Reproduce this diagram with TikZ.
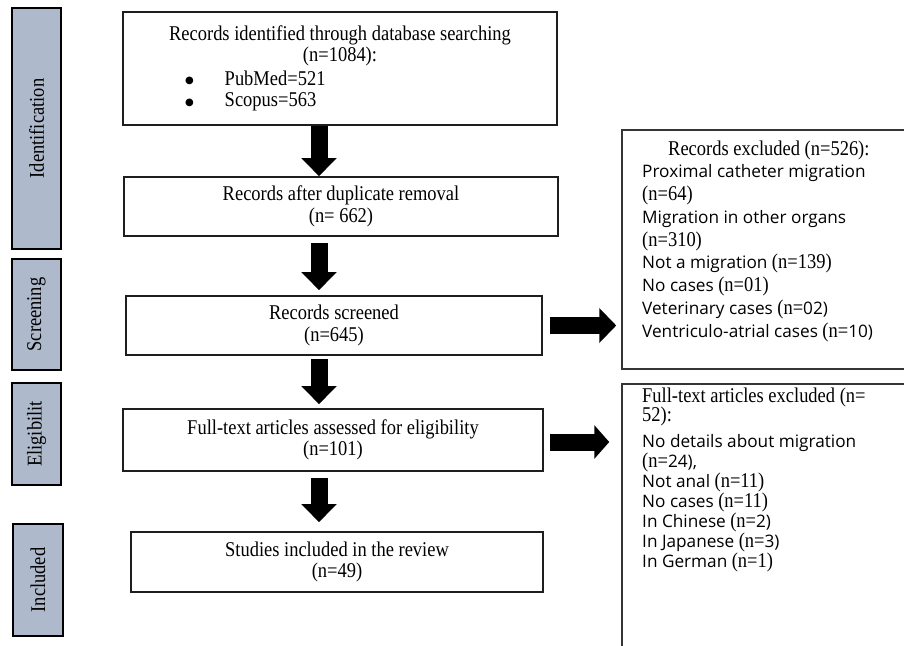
\documentclass[tikz,border=0pt]{standalone}
\usepackage{fontspec}
\setmainfont[FakeStretch=0.88]{Liberation Serif}
\newfontfamily\sansf{Open Sans}
\newfontfamily\dejavu{DejaVu Sans}
\usetikzlibrary{arrows.meta}
\definecolor{barfill}{RGB}{174,185,203}
\definecolor{edge}{RGB}{30,30,30}
\newcommand\serifn[1]{{\rmfamily\fontsize{21}{20}\selectfont #1}}
\newcommand\bigdot{\raisebox{1.6pt}{\dejavu\fontsize{10}{10}\selectfont ●}}
\begin{document}
\begin{tikzpicture}[x=1pt,y=-1pt,
  bar/.style={draw=black, line width=1.8pt, fill=barfill, inner sep=0pt,
    font=\fontsize{21}{22}\selectfont, rotate=90},
  box/.style={draw=edge, line width=1.6pt, inner sep=0pt, align=center,
    font=\fontsize{21}{21.5}\selectfont},
  exbox/.style={draw=edge!90, line width=1.5pt, inner sep=0pt},
  darrow/.style={line width=17pt, -{Triangle[length=18pt,width=34pt]}},
  rarrow/.style={line width=17pt, -{Triangle[length=17pt,width=34pt]}},
  lineS/.style={anchor=base west, inner sep=0pt, font=\sansf\fontsize{17.2}{20}\selectfont},
  lineR/.style={anchor=base west, inner sep=0pt, font=\rmfamily\fontsize{21}{20}\selectfont}]
\useasboundingbox (0,0) rectangle (904,645);
\clip (0,0) rectangle (904,645);
\fill[white] (0,0) rectangle (904,645);

% phase bars
\node[bar, minimum width=241pt, minimum height=49pt] (pid) at (36.5,128.5) {Identification};
\node[bar, minimum width=111pt, minimum height=49pt] (psc) at (36.5,314.5) {Screening};
\node[bar, minimum width=102pt, minimum height=49pt] (pel) at (36.5,434) {Eligibilit};
\node[bar, minimum width=112pt, minimum height=50pt] (pin) at (38,580) {Included};

% main boxes
\node[box, minimum width=434pt, minimum height=113pt] (b1) at (340,68.5)
  {Records identified through database searching\\
   (n=1084):\\[2pt]
   \makebox[342pt][l]{\hspace*{16pt}\bigdot\hspace*{31pt}PubMed=521}\\
   \makebox[342pt][l]{\hspace*{16pt}\bigdot\hspace*{31pt}Scopus=563}};
\node[box, minimum width=434pt, minimum height=59pt] (b2) at (341,206.5)
  {Records after duplicate removal\\(n= 662)};
\node[box, minimum width=416pt, minimum height=59pt] (b3) at (334,325.5)
  {Records screened\\(n=645)};
\node[box, minimum width=420pt, minimum height=62pt] (b4) at (333,440)
  {Full-text articles assessed for eligibility\\(n=101)};
\node[box, minimum width=412pt, minimum height=60pt] (b5) at (337,562)
  {Studies included in the review\\(n=49)};

% exclusion boxes (cut by the right and bottom edges)
\node[exbox, minimum width=290pt, minimum height=239pt] (rb1) at (767,249.5) {};
\node[exbox, minimum width=290pt, minimum height=276pt] (rb2) at (767,522) {};

% text of first exclusion box
\node[lineR] (r1) at (668,155) {Records excluded (n=526):};
\node[lineS] (r2) at (642,177.75) {Proximal catheter migration};
\node[lineR] (r3) at (642,200.5) {(n=64)};
\node[lineS] (r4) at (642,223.25) {Migration in other organs};
\node[lineR] (r5) at (642,246) {(n=310)};
\node[lineS] (r6) at (642,268.75) {Not a migration \serifn{(n=139)}};
\node[lineS] (r7) at (642,291.5) {No cases \serifn{(n=01)}};
\node[lineS] (r8) at (642,314.25) {Veterinary cases \serifn{(n=}02)};
\node[lineS] (r9) at (642,337) {Ventriculo-atrial cases \serifn{(n=}10)};

% text of second exclusion box
\node[lineR] (s1) at (642,402) {Full-text articles excluded (n=};
\node[lineR] (s2) at (642,421) {52):};
\node[lineS] (s3) at (642,447) {No details about migration};
\node[lineS] (s4) at (642,467) {\serifn{(n=}24),};
\node[lineS] (s5) at (642,487) {Not anal \serifn{(n=11)}};
\node[lineS] (s6) at (642,507) {No cases \serifn{(n=11)}};
\node[lineS] (s7) at (642,527) {In Chinese \serifn{(n=}2)};
\node[lineS] (s8) at (642,547) {In Japanese \serifn{(n=}3)};
\node[lineS] (s9) at (642,567) {In German \serifn{(n=1)}};

% downward arrows
\coordinate (ax) at (319,0);
\draw[darrow] (b1.south -| ax) -- (b2.north -| ax);
\draw[darrow, shorten <=6pt, shorten >=5pt] (b2.south -| ax) -- (b3.north -| ax);
\draw[darrow, shorten <=3pt, shorten >=4pt] (b3.south -| ax) -- (b4.north -| ax);
\draw[darrow, shorten <=6pt, shorten >=9pt] (b4.south -| ax) -- (b5.north -| ax);

% arrows to exclusion boxes
\draw[rarrow, shorten <=7pt, shorten >=5pt] (b3.east) -- (b3.east -| rb1.west);
\draw[rarrow, -{Triangle[length=15pt,width=33pt]}, shorten <=6pt, shorten >=12pt]
  ([yshift=-2pt]b4.east) -- ([yshift=-2pt]b4.east -| rb2.west);
\end{tikzpicture}
\end{document}
